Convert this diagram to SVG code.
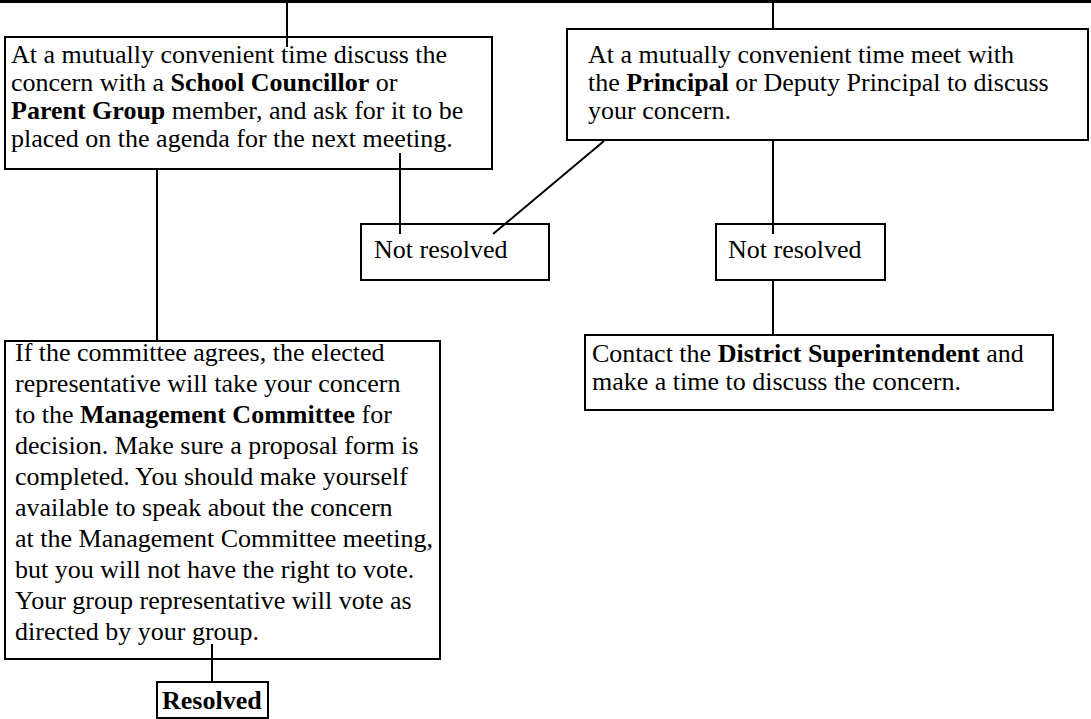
<svg xmlns="http://www.w3.org/2000/svg" width="1091" height="719" viewBox="0 0 1091 719">
<style>
.box{fill:#fff;stroke:#000;stroke-width:2}
.ln{stroke:#000;stroke-width:2;fill:none}
text{font-family:"Liberation Serif","Times New Roman",serif;font-size:26px;fill:#000}
.b{font-weight:bold}
</style>
<rect width="1091" height="719" fill="#fff"/>
<g id="box1">
<rect class="box" x="5" y="37" width="487" height="132"/>
<text x="11" y="63">At a mutually convenient time discuss the</text>
<text x="11" y="91">concern with a <tspan class="b">School Councillor</tspan> or</text>
<text x="11" y="119"><tspan class="b">Parent Group</tspan> member, and ask for it to be</text>
<text x="11" y="147">placed on the agenda for the next meeting.</text>
</g>
<g id="box2">
<rect class="box" x="567" y="29" width="521" height="111"/>
<text x="588" y="63">At a mutually convenient time meet with</text>
<text x="588" y="91">the <tspan class="b">Principal</tspan> or Deputy Principal to discuss</text>
<text x="588" y="119">your concern.</text>
</g>
<g id="nr1">
<rect class="box" x="361" y="224" width="188" height="56"/>
<text x="374" y="258">Not resolved</text>
</g>
<g id="nr2">
<rect class="box" x="716" y="224" width="169" height="56"/>
<text x="728" y="258">Not resolved</text>
</g>
<g id="district">
<rect class="box" x="585" y="335" width="468" height="75"/>
<text x="592" y="362">Contact the <tspan class="b">District Superintendent</tspan> and</text>
<text x="592" y="390">make a time to discuss the concern.</text>
</g>
<g id="committee">
<rect class="box" x="5" y="341" width="435" height="318"/>
<text x="15" y="361">If the committee agrees, the elected</text>
<text x="15" y="392">representative will take your concern</text>
<text x="15" y="423">to the <tspan class="b">Management Committee</tspan> for</text>
<text x="15" y="454">decision. Make sure a proposal form is</text>
<text x="15" y="485">completed. You should make yourself</text>
<text x="15" y="516">available to speak about the concern</text>
<text x="15" y="547">at the Management Committee meeting,</text>
<text x="15" y="578">but you will not have the right to vote.</text>
<text x="15" y="609">Your group representative will vote as</text>
<text x="15" y="640">directed by your group.</text>
</g>
<g id="resolved">
<rect class="box" x="157" y="682" width="111" height="36"/>
<text class="b" x="162" y="709">Resolved</text>
</g>
<g id="connectors">
<line class="ln" x1="0" y1="1.5" x2="1091" y2="1.5" style="stroke-width:3"/>
<line class="ln" x1="287" y1="3" x2="287" y2="47"/>
<line class="ln" x1="773" y1="3" x2="773" y2="29"/>
<line class="ln" x1="400" y1="153" x2="400" y2="234"/>
<line class="ln" x1="604" y1="141" x2="493" y2="234"/>
<line class="ln" x1="773" y1="140" x2="773" y2="234"/>
<line class="ln" x1="773" y1="280" x2="773" y2="335"/>
<line class="ln" x1="157" y1="169" x2="157" y2="341"/>
<line class="ln" x1="212" y1="644" x2="212" y2="682"/>
</g>
</svg>
